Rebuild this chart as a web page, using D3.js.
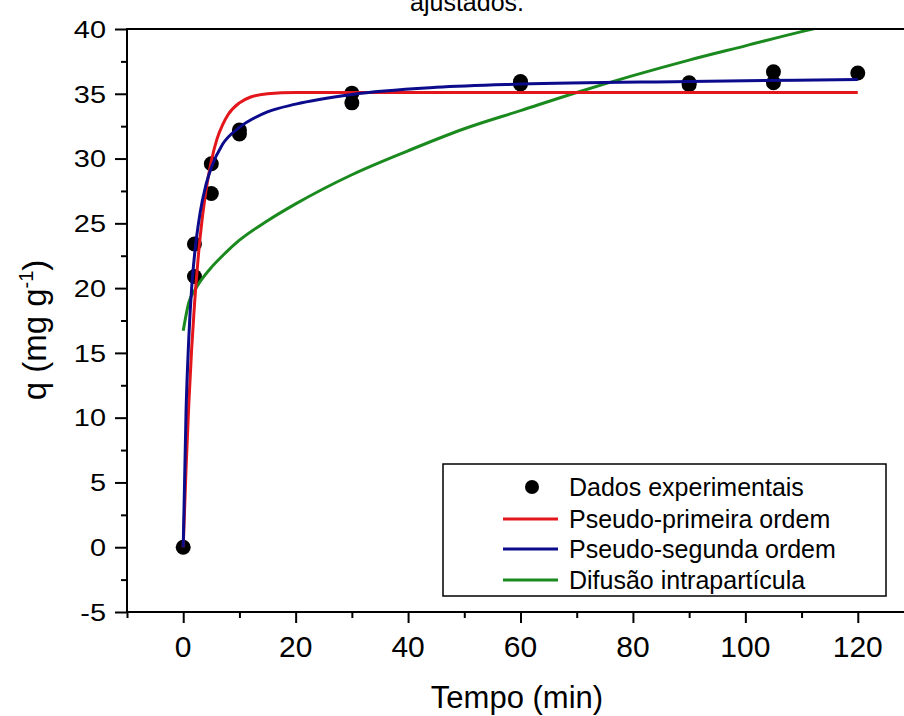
<!DOCTYPE html>
<html>
<head>
<meta charset="utf-8">
<script src="https://cdn.jsdelivr.net/npm/d3@7"></script>
<style>
  html, body { margin: 0; padding: 0; background: #fff; }
  svg { display: block; font-family: "Liberation Sans", Arial, sans-serif; }
</style>
</head>
<body>
<svg id="chart" width="904" height="716"></svg>
<script>
// ---- Data ----
const expTime = [0, 2, 2, 5, 5, 10, 10, 30, 30, 60, 60, 90, 90, 105, 105, 120];
const expQ    = [0, 23.4, 20.9, 29.6, 27.3, 32.2, 31.9, 35.05, 34.3, 35.95, 35.75, 35.85, 35.7, 36.7, 35.85, 36.6];

const pfoTime = [0, 0.5, 1, 1.5, 2, 3, 4, 5, 6, 7, 8, 10, 12, 15, 20, 30, 60, 90, 120];
const pfoQ    = [0, 6.0, 11.1, 15.3, 18.7, 23.9, 27.4, 29.8, 31.5, 32.6, 33.4, 34.3, 34.75, 35.0, 35.1, 35.1, 35.1, 35.1, 35.1];

const psoTime = [0, 0.5, 1, 1.5, 2, 3, 4, 5, 7, 10, 15, 20, 30, 45, 60, 90, 120];
const psoQ    = [0, 10.4, 16.2, 20.0, 22.5, 25.8, 27.9, 29.3, 31.1, 32.4, 33.6, 34.2, 34.95, 35.5, 35.75, 35.95, 36.1];

const ipdTime = [0, 1, 2, 3, 5, 7, 10, 15, 20, 30, 40, 50, 60, 70, 80, 90, 100, 110, 115];
const ipdQ    = [16.7, 18.9, 19.8, 20.5, 21.6, 22.5, 23.7, 25.2, 26.5, 28.75, 30.6, 32.3, 33.7, 35.1, 36.4, 37.6, 38.7, 39.8, 40.3];

const xMajorTicks = [0, 20, 40, 60, 80, 100, 120];
const xMinorTicks = [-10, 10, 30, 50, 70, 90, 110, 130];
const yMajorTicks = [-5, 0, 5, 10, 15, 20, 25, 30, 35, 40];
const yMinorTicks = [-2.5, 2.5, 7.5, 12.5, 17.5, 22.5, 27.5, 32.5, 37.5];

const legendLabels = ["Dados experimentais", "Pseudo-primeira ordem", "Pseudo-segunda ordem", "Difusão intrapartícula"];
const seriesColors = ["#000000", "#e3161b", "#0b0b8c", "#1b8a1e"];

const titleText = "ajustados.";
const xTitle = "Tempo (min)";

// ---- Layout ----
const svg = d3.select("#chart");
const x = d3.scaleLinear().domain([-10, 130]).range([127, 914]);
const y = d3.scaleLinear().domain([-5, 40]).range([612, 29]);

svg.append("defs").append("clipPath").attr("id", "plotclip")
  .append("rect")
  .attr("x", x(-10)).attr("y", y(40))
  .attr("width", x(130) - x(-10)).attr("height", y(-5) - y(40));

// title (cut off at top, as in the reference)
svg.append("text")
  .attr("x", 467).attr("y", 11)
  .attr("text-anchor", "middle")
  .attr("font-size", 25)
  .text(titleText);

// axes
const xAxisMajor = d3.axisBottom(x).tickValues(xMajorTicks).tickSize(11).tickFormat("");
const xAxisMinor = d3.axisBottom(x).tickValues(xMinorTicks).tickSize(6).tickFormat("");
const yAxisMajor = d3.axisLeft(y).tickValues(yMajorTicks).tickSize(12).tickFormat("");
const yAxisMinor = d3.axisLeft(y).tickValues(yMinorTicks).tickSize(6).tickFormat("");

function styleAxis(g) {
  g.select(".domain").remove();
  g.selectAll(".tick line").attr("stroke", "#000").attr("stroke-width", 2);
}
svg.append("g").attr("transform", `translate(0,${y(-5)})`).call(xAxisMajor).call(styleAxis);
svg.append("g").attr("transform", `translate(0,${y(-5)})`).call(xAxisMinor).call(styleAxis);
svg.append("g").attr("transform", `translate(${x(-10)},0)`).call(yAxisMajor).call(styleAxis);
svg.append("g").attr("transform", `translate(${x(-10)},0)`).call(yAxisMinor).call(styleAxis);

// x tick labels
svg.append("g").selectAll("text").data(xMajorTicks).join("text")
  .attr("x", d => x(d)).attr("y", 657)
  .attr("text-anchor", "middle")
  .attr("font-size", 30)
  .text(d => d);

// y tick labels (wide glyphs as in the reference)
svg.append("g").selectAll("g").data(yMajorTicks).join("g")
  .attr("transform", d => `translate(106,${y(d)})`)
  .append("text")
  .attr("transform", "scale(1.18,1)")
  .attr("text-anchor", "end")
  .attr("dy", "0.36em")
  .attr("font-size", 24.5)
  .text(d => d);

// axis titles
svg.append("text")
  .attr("x", 517).attr("y", 708)
  .attr("text-anchor", "middle")
  .attr("font-size", 31)
  .text(xTitle);

const yt = svg.append("text")
  .attr("transform", "translate(46,330) rotate(-90)")
  .attr("text-anchor", "middle")
  .attr("font-size", 33);
yt.append("tspan").text("q (mg g");
yt.append("tspan").attr("font-size", 20).attr("dy", -13).text("-1");
yt.append("tspan").attr("dy", 13).text(")");

// data points
const pts = expTime.map((t, i) => ({ t, q: expQ[i] }));
svg.append("g").selectAll("circle").data(pts).join("circle")
  .attr("cx", d => x(d.t)).attr("cy", d => y(d.q))
  .attr("r", 7.5).attr("fill", "#000");

// fitted lines
const line = d3.line().x(d => x(d[0])).y(d => y(d[1])).curve(d3.curveMonotoneX);
const fits = [
  { t: ipdTime, q: ipdQ, c: seriesColors[3] },
  { t: pfoTime, q: pfoQ, c: seriesColors[1] },
  { t: psoTime, q: psoQ, c: seriesColors[2] }
];
const lg = svg.append("g").attr("clip-path", "url(#plotclip)");
fits.forEach(f => {
  lg.append("path")
    .datum(f.t.map((t, i) => [t, f.q[i]]))
    .attr("d", line)
    .attr("fill", "none")
    .attr("stroke", f.c)
    .attr("stroke-width", 3)
    .attr("stroke-linejoin", "round");
});

// frame
svg.append("rect")
  .attr("x", x(-10)).attr("y", y(40))
  .attr("width", x(130) - x(-10)).attr("height", y(-5) - y(40))
  .attr("fill", "none").attr("stroke", "#000").attr("stroke-width", 2);

// legend
const leg = svg.append("g");
leg.append("rect")
  .attr("x", 443).attr("y", 464).attr("width", 443).attr("height", 132)
  .attr("fill", "#fff").attr("stroke", "#000").attr("stroke-width", 1.5);
const rowY = [487, 519, 549, 580];
legendLabels.forEach((lab, i) => {
  if (i === 0) {
    leg.append("circle").attr("cx", 532).attr("cy", rowY[i]).attr("r", 7).attr("fill", seriesColors[0]);
  } else {
    leg.append("line").attr("x1", 503).attr("x2", 558).attr("y1", rowY[i]).attr("y2", rowY[i])
      .attr("stroke", seriesColors[i]).attr("stroke-width", 3);
  }
  leg.append("text").attr("x", 569).attr("y", rowY[i]).attr("dy", "0.35em")
    .attr("font-size", 25).text(lab);
});
</script>
</body>
</html>
